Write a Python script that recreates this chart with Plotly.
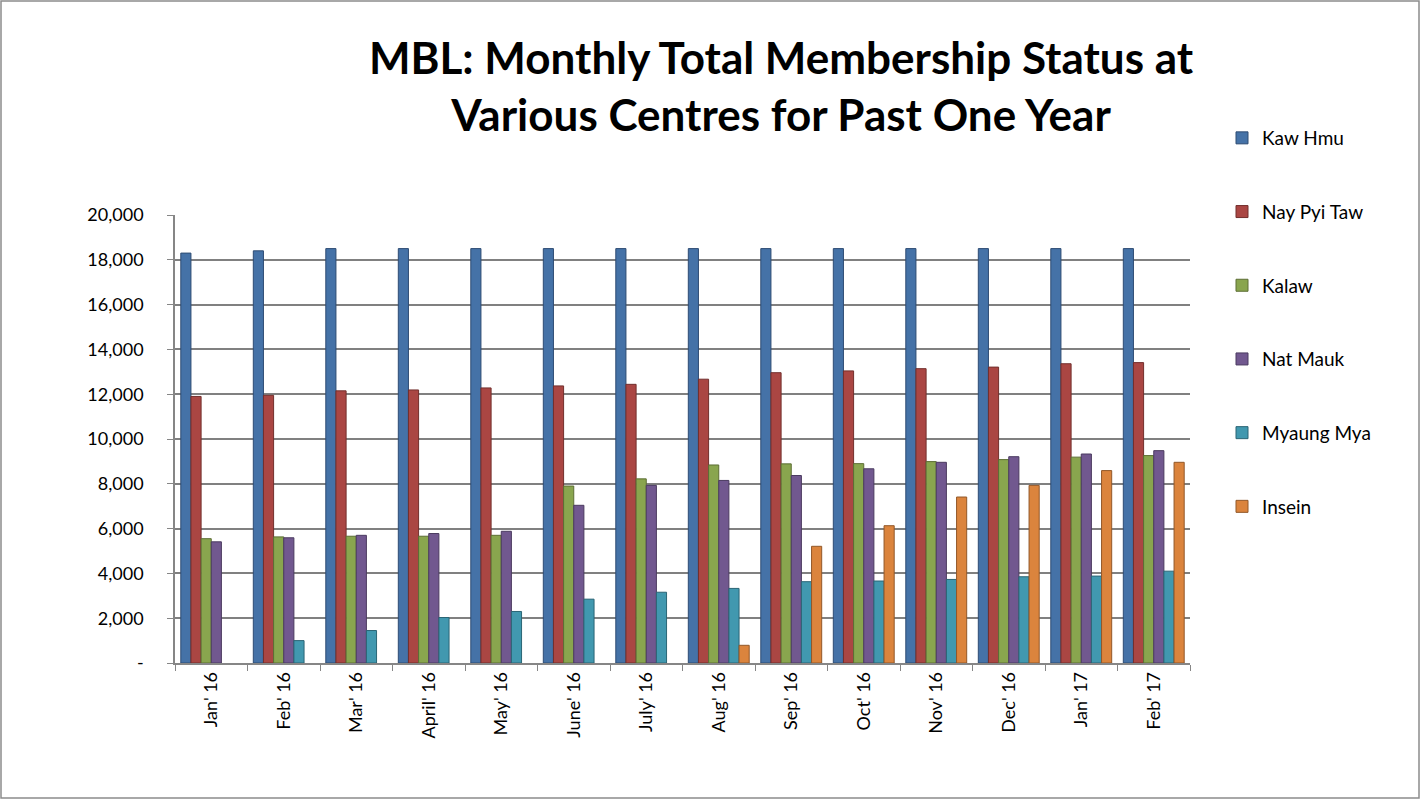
import plotly.graph_objects as go

# categorias (meses) e séries; None = sem barra
meses = ["Jan' 16", "Feb' 16", "Mar' 16", "April' 16", "May' 16", "June' 16", "July' 16",
         "Aug' 16", "Sep' 16", "Oct' 16", "Nov' 16", "Dec' 16", "Jan' 17", "Feb' 17"]

kaw_hmu = [18300, 18400, 18500, 18500, 18500, 18500, 18500,
           18500, 18500, 18500, 18500, 18500, 18500, 18500]
nay_pyi_taw = [11900, 11950, 12150, 12190, 12280, 12370, 12440,
               12670, 12960, 13040, 13140, 13210, 13360, 13410]
kalaw = [5550, 5630, 5660, 5660, 5700, 7900, 8220,
         8840, 8890, 8900, 8990, 9080, 9190, 9260]
nat_mauk = [5410, 5590, 5700, 5780, 5880, 7040, 7930,
            8150, 8370, 8670, 8960, 9210, 9330, 9480]
myaung_mya = [None, 1000, 1450, 2030, 2300, 2850, 3160,
              3330, 3630, 3660, 3730, 3850, 3880, 4100]
insein = [None, None, None, None, None, None, None,
          790, 5210, 6130, 7410, 7930, 8590, 8960]

y_ticks = [0, 2000, 4000, 6000, 8000, 10000, 12000, 14000, 16000, 18000, 20000]
y_labels = ["-", "2,000", "4,000", "6,000", "8,000", "10,000", "12,000",
            "14,000", "16,000", "18,000", "20,000"]

series = [
    ("Kaw Hmu", kaw_hmu, "#4572A7", "#2E4C73"),
    ("Nay Pyi Taw", nay_pyi_taw, "#AA4643", "#722F2D"),
    ("Kalaw", kalaw, "#89A54E", "#5C6E34"),
    ("Nat Mauk", nat_mauk, "#71588F", "#4B3B60"),
    ("Myaung Mya", myaung_mya, "#4198AF", "#2B6575"),
    ("Insein", insein, "#DB843D", "#925829"),
]

W, H = 1421, 800
ml, mr, mt, mb = 175, 231, 215, 137

fig = go.Figure()
for i, (nome, valores, cor, borda) in enumerate(series):
    fig.add_trace(go.Bar(
        x=meses, y=valores, name=nome,
        marker=dict(color=cor, line=dict(color=borda, width=1)),
        legendgroup=f"g{i}",
    ))

# borda externa do gráfico
pw = W - ml - mr
ph = H - mt - mb
fig.add_shape(type="rect", xref="paper", yref="paper",
              x0=-(ml - 1) / pw, x1=1 + (mr - 2) / pw,
              y0=-(mb - 2) / ph, y1=1 + (mt - 1) / ph,
              line=dict(color="#8C8C8C", width=1.5), layer="below")

fig.update_layout(
    width=W, height=H,
    margin=dict(l=ml, r=mr, t=mt, b=mb),
    paper_bgcolor="white", plot_bgcolor="white",
    barmode="group", bargap=0.16, bargroupgap=0,
    font=dict(family="Lato, Open Sans, sans-serif", color="black", size=18),
    title=dict(
        text="MBL: Monthly Total Membership Status at<br>Various Centres for Past One Year",
        x=781 / W, xanchor="center", y=1 - 74 / H, yanchor="middle",
        font=dict(size=44, family="Lato, Open Sans, sans-serif", weight="bold"),
    ),
    legend=dict(
        x=1 + 32 / pw, xanchor="left", y=1 + 96 / ph, yanchor="top",
        tracegroupgap=46, font=dict(size=19),
        itemwidth=30, maxheight=0.95,
    ),
    xaxis=dict(
        showline=True, linecolor="#868686", linewidth=1.5,
        ticks="outside", tickson="boundaries", ticklen=6, tickcolor="#868686",
        tickangle=-90, tickfont=dict(size=18),
        showgrid=False,
    ),
    yaxis=dict(
        range=[0, 20000], tickvals=y_ticks, ticktext=y_labels,
        showline=True, linecolor="#868686", linewidth=1.5,
        ticks="outside", ticklen=6, tickcolor="#868686",
        showgrid=True, gridcolor="#808080", gridwidth=2,
        tickfont=dict(size=18), ticklabelstandoff=20,
        zeroline=False,
    ),
)

fig.write_html("out.html", config={"displayModeBar": False},
               post_script="document.body.style.margin='0px';")
